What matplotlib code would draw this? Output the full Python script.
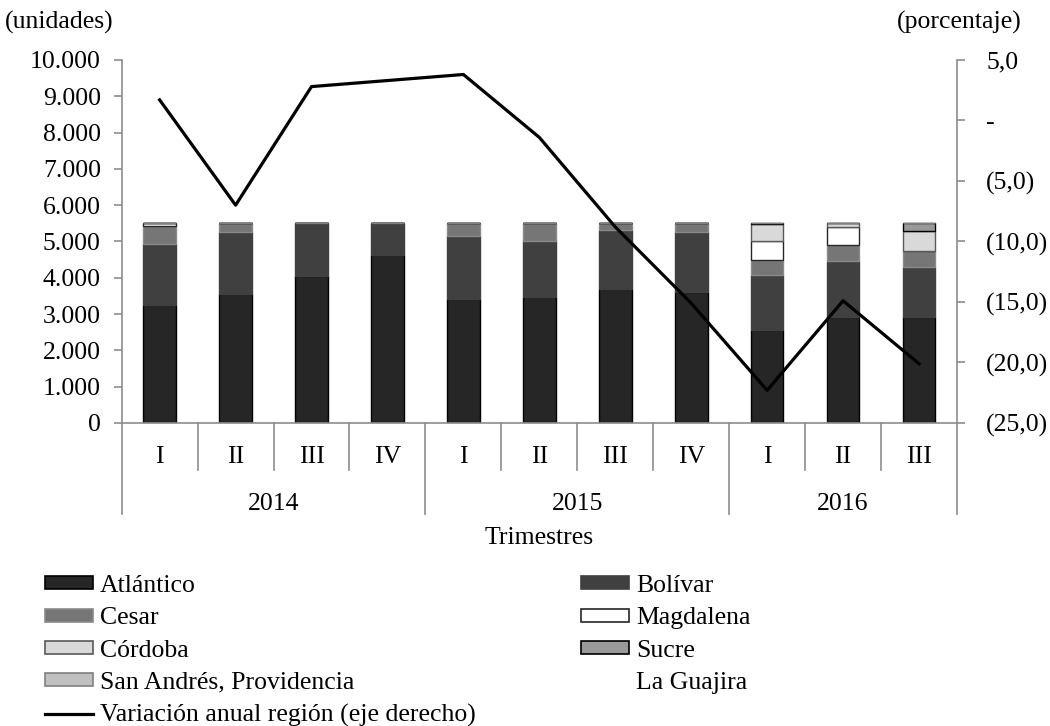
import matplotlib
matplotlib.use('Agg')
import matplotlib.pyplot as plt
import matplotlib.transforms as mtransforms
from matplotlib.patches import Patch
from matplotlib.lines import Line2D
import numpy as np

plt.rcParams['font.family'] = ['Liberation Serif', 'DejaVu Serif']
plt.rcParams['font.size'] = 18.5

quarters = ['I', 'II', 'III', 'IV', 'I', 'II', 'III', 'IV', 'I', 'II', 'III']
years = ['2014', '2015', '2016']
year_spans = [(0, 3), (4, 7), (8, 10)]

# visible parts of the stacked bars (units)
atlantico = [3250, 3550, 4050, 4630, 3420, 3460, 3680, 3620, 2560, 2930, 2930]
bolivar = [1680, 1700, 1450, 870, 1730, 1540, 1640, 1630, 1520, 1530, 1380]
cesar = [500, 250, 0, 0, 350, 500, 180, 250, 410, 440, 440]
magdalena = [70, 0, 0, 0, 0, 0, 0, 0, 520, 490, 0]
cordoba = [0, 0, 0, 0, 0, 0, 0, 0, 470, 110, 540]
sucre = [0, 0, 0, 0, 0, 0, 0, 0, 20, 0, 210]
san_andres = [0, 0, 0, 0, 0, 0, 0, 0, 0, 0, 0]
la_guajira = [0, 0, 0, 0, 0, 0, 0, 0, 0, 0, 0]

# annual variation of the region (%), right axis
variacion = [1.7, -7.0, 2.8, 3.3, 3.8, -1.4, -8.8, -15.1, -22.3, -14.9, -20.1]

left_ticks = [0, 1000, 2000, 3000, 4000, 5000, 6000, 7000, 8000, 9000, 10000]
left_labels = ['0', '1.000', '2.000', '3.000', '4.000', '5.000', '6.000', '7.000', '8.000', '9.000', '10.000']
right_ticks = [-25, -20, -15, -10, -5, 0, 5]
right_labels = ['(25,0)', '(20,0)', '(15,0)', '(10,0)', '(5,0)', '-', '5,0']

series = [
    ('Atlántico', atlantico, '#262626', '#000000'),
    ('Bolívar', bolivar, '#404040', '#404040'),
    ('Cesar', cesar, '#767676', '#8a8a8a'),
    ('Magdalena', magdalena, '#ffffff', '#262626'),
    ('Córdoba', cordoba, '#d9d9d9', '#595959'),
    ('Sucre', sucre, '#999999', '#000000'),
    ('San Andrés, Providencia', san_andres, '#c0c0c0', '#7f7f7f'),
    ('La Guajira', la_guajira, 'none', 'none'),
]

grey = '#8c8c8c'
fig = plt.figure(figsize=(10.5, 7.26), dpi=100)
ax = fig.add_axes([0.1159, 0.4174, 0.7955, 0.5])
x = np.arange(len(quarters))

bottom = np.zeros(len(quarters))
handles = {}
for name, vals, fc, ec in series:
    vals = np.array(vals, dtype=float)
    ax.bar(x, vals, width=0.43, bottom=bottom, color=fc, edgecolor=ec, linewidth=1.0)
    bottom += vals
    handles[name] = Patch(facecolor=fc, edgecolor=ec, linewidth=1.2)

ax.set_xlim(-0.5, len(quarters) - 0.5)
ax.set_ylim(0, 10000)
ax.set_yticks(left_ticks)
ax.set_yticklabels(left_labels)
ax.set_xticks([])
ax.tick_params(axis='y', direction='out', length=6, width=1.2, color=grey, pad=9)
for s in ['top', 'right']:
    ax.spines[s].set_visible(False)
ax.spines['left'].set_color(grey)
ax.spines['bottom'].set_color(grey)
ax.spines['left'].set_linewidth(1.2)
ax.spines['bottom'].set_linewidth(1.2)

ax2 = ax.twinx()
ax2.plot(x, variacion, color='black', linewidth=2.3)
ax2.set_ylim(-25, 5)
ax2.set_yticks(right_ticks)
ax2.set_yticklabels(right_labels)
ax2.tick_params(axis='y', direction='out', length=6, width=1.2, color=grey, pad=15)
for s in ['top', 'left', 'bottom']:
    ax2.spines[s].set_visible(False)
ax2.spines['right'].set_color(grey)
ax2.spines['right'].set_linewidth(1.2)

# category axis: quarters, years and separators
trans = mtransforms.blended_transform_factory(ax.transData, ax.transAxes)
for i, q in enumerate(quarters):
    ax.text(i, -0.093, q, transform=trans, ha='center', va='center')
for b in np.arange(-0.5, len(quarters), 1.0):
    long_line = b in (-0.5, 3.5, 7.5, len(quarters) - 0.5)
    y_end = -0.2507 if long_line else -0.1295
    ax.plot([b, b], [0, y_end], transform=trans, color=grey, linewidth=1.2, clip_on=False)
for yr, (a, b) in zip(years, year_spans):
    ax.text((a + b) / 2, -0.222, yr, transform=trans, ha='center', va='center')
ax.text(0.5, -0.316, 'Trimestres', transform=ax.transAxes, ha='center', va='center')

fig.text(5 / 1050, 1 - 22 / 726, '(unidades)', ha='left', va='center')
fig.text(1022 / 1050, 1 - 22 / 726, '(porcentaje)', ha='right', va='center')

line_handle = Line2D([0], [0], color='black', linewidth=2.3)
col1 = ['Atlántico', 'Cesar', 'Córdoba', 'San Andrés, Providencia']
col2 = ['Bolívar', 'Magdalena', 'Sucre', 'La Guajira']
leg_handles = [handles[n] for n in col1] + [line_handle] + [handles[n] for n in col2]
leg_labels = col1 + ['Variación anual región (eje derecho)'] + col2
fig.legend(leg_handles, leg_labels, ncol=2, loc='upper left',
           bbox_to_anchor=(45 / 1050, 1 - 575 / 726), frameon=False,
           handlelength=1.87, handleheight=0.4, handletextpad=0.27,
           columnspacing=4.1, labelspacing=0.4, borderpad=0, borderaxespad=0)

fig.savefig('out.png', dpi=100)
